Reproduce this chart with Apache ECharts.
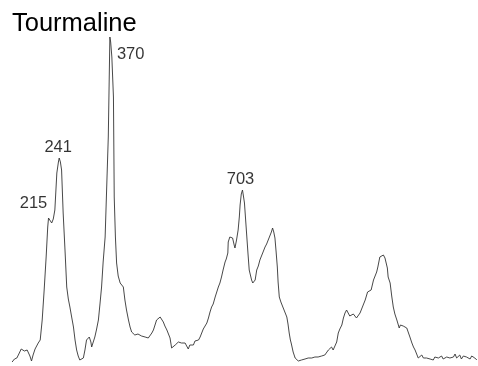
<!DOCTYPE html>
<html><head><meta charset="utf-8">
<script src="https://cdn.jsdelivr.net/npm/echarts@6/dist/echarts.min.js"></script>
<style>html,body{margin:0;padding:0;background:#fff}#c{width:478px;height:366px}</style>
</head><body><div id="c"></div>
<script>
var titleText = 'Tourmaline';
var wavenumber = [123,129,135,140,146,151,154,157,161,164,168,172,176,181,185,189,194,199,204,209,213,215,219,223,227,231,236,240,242,245,248,252,257,261,265,269,273,278,282,286,290,294,298,303,307,311,315,318,322,324,328,332,336,341,345,349,353,358,362,366,368,370,372,375,379,381,384,387,391,396,400,404,408,412,417,421,425,429,433,437,441,446,450,454,459,463,467,471,476,480,484,488,492,497,501,505,509,514,518,522,526,530,535,539,543,547,551,555,560,564,568,572,577,581,585,589,594,598,602,606,611,615,619,623,627,631,636,640,644,648,652,656,661,664,668,669,673,678,680,682,684,686,690,694,697,699,702,705,707,710,713,716,719,722,725,728,731,734,737,741,745,749,753,757,762,766,770,775,778,781,784,787,790,793,795,798,802,806,810,814,817,820,823,826,828,833,838,842,846,850,854,858,863,867,871,875,880,884,888,892,896,900,905,909,913,918,922,926,930,934,939,943,947,951,956,960,964,968,972,976,981,985,989,993,998,1002,1008,1011,1015,1018,1021,1025,1030,1033,1036,1041,1044,1047,1050,1052,1056,1061,1065,1069,1071,1073,1078,1082,1086,1090,1095,1098,1101,1104,1107,1111,1116,1120,1124,1128,1133,1137,1141,1145,1149,1153,1158,1162,1166,1170,1175,1179,1183,1187,1191,1196,1200,1204,1208,1212,1217,1221,1225,1229,1233,1238,1242,1246,1250,1254,1258,1263,1267,1271,1275,1280,1284,1288,1292,1297];
var intensity = [0,3,4,8,13,15,11,9,12,11,6,1,7,13,16,19,22,42,72,105,135,144,144,139,143,152,189,200,204,200,192,149,109,75,63,55,46,35,22,12,6,2,1,4,12,22,20,25,20,15,20,25,32,42,58,75,100,125,175,225,275,325,320,305,265,165,125,99,86,79,77,75,62,52,42,35,30,28,27,25,28,27,26,27,25,26,24,26,29,32,37,42,44,45,43,40,36,32,28,24,14,16,17,15,20,22,19,17,19,16,13,17,19,17,21,20,22,25,29,33,35,39,44,50,55,58,65,70,75,79,85,92,100,103,109,120,125,127,124,122,117,114,122,132,145,157,168,172,167,159,142,125,108,92,87,82,79,77,82,92,96,102,106,110,115,118,122,127,130,134,130,124,110,95,80,65,60,56,54,48,45,38,29,22,19,10,4,2,1,3,2,4,3,2,4,3,4,2,5,4,5,3,6,4,7,9,12,14,15,12,14,20,29,33,37,44,49,52,50,46,45,48,47,44,45,49,55,58,62,66,70,68,72,77,82,84,90,95,101,105,104,107,104,102,94,85,79,66,55,48,42,38,34,37,39,36,35,34,32,25,19,15,12,8,4,6,7,4,5,4,6,3,4,2,5,3,4,4,6,3,5,5,7,4,6,5,8,4,6,7,3,6,5,5,7,3,6,5,4,2];
var peakLabels = ['215','241','370','703'];
var peakWavenumber = [215,242,370,705];
var peakIntensity = [144,204,325,172];

var spectrum = wavenumber.map(function(w,i){return [w, intensity[i]];});
var labelStyle = [
  {position:'top', offset:[-15,-1]},
  {position:'top', offset:[-1,3]},
  {position:'right', offset:[2,17]},
  {position:'top', offset:[-2,3]}
];
var peaks = peakLabels.map(function(t,i){
  return {name:t, value:[peakWavenumber[i], peakIntensity[i]], label:labelStyle[i]};
});

var chart = echarts.init(document.getElementById('c'), null, {renderer:'canvas'});
chart.setOption({
  backgroundColor:'#fff',
  animation:false,
  title:{text:titleText, left:7, top:6, textStyle:{fontFamily:'Liberation Sans', fontSize:25.5, fontWeight:'normal', color:'#000'}},
  grid:{left:3, right:0, top:22, bottom:4},
  xAxis:{type:'value', min:100, max:1300, show:false},
  yAxis:{type:'value', min:0, max:340, show:false},
  series:[
    {type:'line', data:spectrum, showSymbol:false, symbol:'none', lineStyle:{color:'#333', width:0.9}},
    {type:'scatter', data:peaks, symbolSize:0, label:{show:true, formatter:'{b}', fontFamily:'Liberation Sans', fontSize:16.5, color:'#000'}}
  ]
});
</script></body></html>
